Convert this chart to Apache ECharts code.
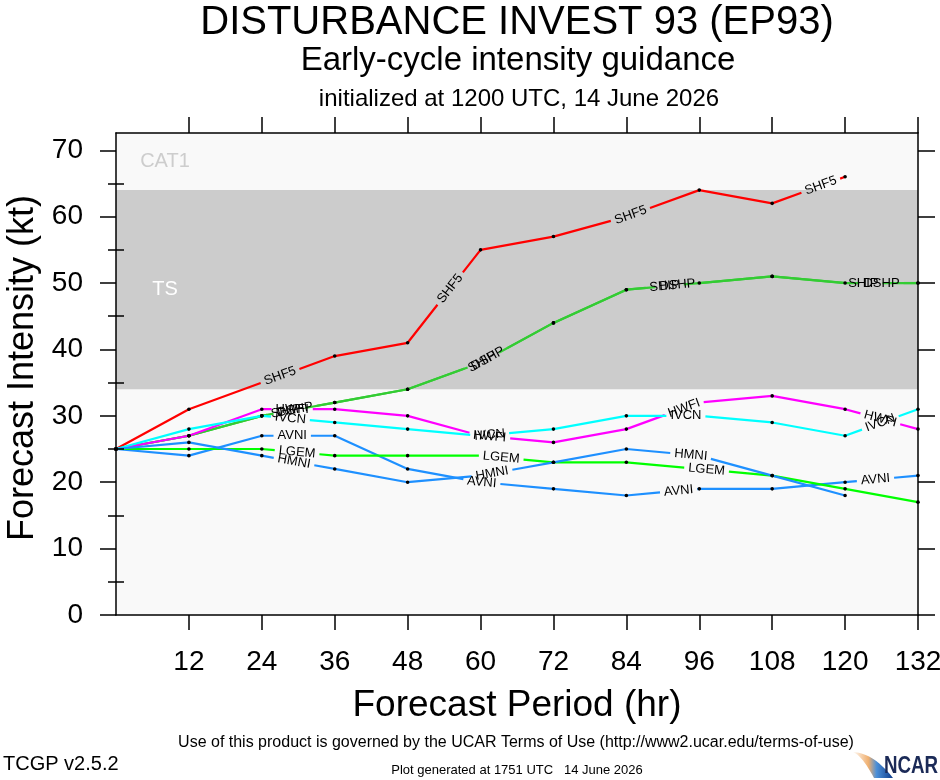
<!DOCTYPE html>
<html>
<head>
<meta charset="utf-8">
<script src="https://cdn.jsdelivr.net/npm/echarts@6.0.0/dist/echarts.min.js"></script>
<style>
html,body{margin:0;padding:0;background:#fff;}
#chart{width:940px;height:780px;}
</style>
</head>
<body>
<div id="chart"></div>
<script>
// ---------------- data ----------------
const hours = [0, 12, 24, 36, 48, 60, 72, 84, 96, 108, 120, 132];
const xTickLabels = ['12', '24', '36', '48', '60', '72', '84', '96', '108', '120', '132'];
const yTickLabels = ['0', '10', '20', '30', '40', '50', '60', '70'];
const yMinorTicks = [5, 15, 25, 35, 45, 55, 65];

const modelNames = ['SHF5', 'SHIP', 'DSHP', 'HWFI', 'IVCN', 'AVNI', 'LGEM', 'HMNI'];
const SHF5 = [25, 31, 35, 39, 41, 55, 57, 60, 64, 62, 66];
const SHIP = [25, 27, 30, 32, 34, 38, 44, 49, 50, 51, 50, 50];
const DSHP = [25, 27, 30, 32, 34, 38, 44, 49, 50, 51, 50, 50];
const HWFI = [25, 27, 31, 31, 30, 27, 26, 28, 32, 33, 31, 28];
const IVCN = [25, 28, 30, 29, 28, 27, 28, 30, 30, 29, 27, 31];
const AVNI = [25, 24, 27, 27, 22, 20, 19, 18, 19, 19, 20, 21];
const LGEM = [25, 25, 25, 24, 24, 24, 23, 23, 22, 21, 19, 17];
const HMNI = [25, 26, 24, 22, 20, 21, 23, 25, 24, 21, 18];

const bandNames = ['TS', 'CAT1'];
const bandLimits = [34, 64];
const yMax = 72.6;

// ---------------- styling / layout ----------------
const FONT = '"Liberation Sans", Arial, Helvetica, sans-serif';
const LABEL_FONT = '13px ' + FONT;
const modelValues = { SHF5, SHIP, DSHP, HWFI, IVCN, AVNI, LGEM, HMNI };
const modelColors = {
  SHF5: '#ff0000', SHIP: '#33cc33', DSHP: '#33cc33', HWFI: '#ff00ff',
  IVCN: '#00ffff', AVNI: '#1e90ff', LGEM: '#00ff00', HMNI: '#1e90ff'
};
// where along each curve (in forecast hours) the in-line name labels sit
const labelSpots = {
  SHF5: [27, 55, 84.7, 116],
  SHIP: [28, 60.3, 90.3, 123],
  DSHP: [29.5, 61.2, 92.4, 126],
  HWFI: [29, 61.5, 93.5, 125.8],
  IVCN: [28.7, 61.5, 93.8, 125.8],
  AVNI: [29, 60.2, 92.6, 125],
  LGEM: [29.8, 63.4, 97.2],
  HMNI: [29.3, 61.9, 94.6]
};

const measureCtx = document.createElement('canvas').getContext('2d');
measureCtx.font = LABEL_FONT;

function geometry(name, api) {
  const vals = modelValues[name];
  const pts = vals.map((v, i) => api.coord([hours[i], v]));
  const cum = [0];
  for (let i = 1; i < pts.length; i++) {
    cum.push(cum[i - 1] + Math.hypot(pts[i][0] - pts[i - 1][0], pts[i][1] - pts[i - 1][1]));
  }
  const w = measureCtx.measureText(name).width;
  const labels = [];
  const gaps = [];
  labelSpots[name].forEach(h => {
    const px = api.coord([h, 0])[0];
    let i = 0;
    while (i < pts.length - 2 && pts[i + 1][0] < px) i++;
    let t = (px - pts[i][0]) / (pts[i + 1][0] - pts[i][0]);
    t = Math.max(0, Math.min(1, t));
    const cx = pts[i][0] + t * (pts[i + 1][0] - pts[i][0]);
    const cy = pts[i][1] + t * (pts[i + 1][1] - pts[i][1]);
    const s = cum[i] + t * (cum[i + 1] - cum[i]);
    const ang = Math.atan2(pts[i + 1][1] - pts[i][1], pts[i + 1][0] - pts[i][0]);
    labels.push({ cx, cy, ang });
    gaps.push([s - w / 2 - 4, s + w / 2 + 4]);
  });
  return { pts, cum, labels, gaps };
}

function lineRenderer(name) {
  const color = modelColors[name];
  return function (params, api) {
    if (params.dataIndex !== 0) return null;
    const { pts, cum, gaps } = geometry(name, api);
    const total = cum[cum.length - 1];
    let ivs = [[0, total]];
    gaps.forEach(g => {
      const out = [];
      ivs.forEach(([a, b]) => {
        if (g[1] <= a || g[0] >= b) out.push([a, b]);
        else {
          if (g[0] > a) out.push([a, g[0]]);
          if (g[1] < b) out.push([g[1], b]);
        }
      });
      ivs = out;
    });
    function at(s) {
      let i = 0;
      while (i < pts.length - 2 && cum[i + 1] < s) i++;
      const L = cum[i + 1] - cum[i];
      const t = L ? (s - cum[i]) / L : 0;
      return [pts[i][0] + t * (pts[i + 1][0] - pts[i][0]), pts[i][1] + t * (pts[i + 1][1] - pts[i][1])];
    }
    const children = [];
    ivs.forEach(([a, b]) => {
      const p = [at(a)];
      for (let k = 0; k < cum.length; k++) if (cum[k] > a && cum[k] < b) p.push(pts[k]);
      p.push(at(b));
      children.push({
        type: 'polyline', shape: { points: p },
        style: { stroke: color, lineWidth: 2.2, fill: 'none', lineJoin: 'round' }
      });
    });
    pts.forEach((p, k) => {
      if (!gaps.some(g => cum[k] > g[0] && cum[k] < g[1])) {
        children.push({ type: 'circle', z2: 5, shape: { cx: p[0], cy: p[1], r: 1.8 }, style: { fill: '#000' } });
      }
    });
    return { type: 'group', children };
  };
}

function labelRenderer(name) {
  return function (params, api) {
    if (params.dataIndex !== 0) return null;
    const { labels } = geometry(name, api);
    return {
      type: 'group',
      children: labels.map(l => ({
        type: 'text', x: l.cx, y: l.cy, rotation: -l.ang,
        style: {
          text: name, fill: '#000', font: LABEL_FONT,
          align: 'center', verticalAlign: 'middle',
          textAlign: 'center', textVerticalAlign: 'middle'
        }
      }))
    };
  };
}

const xTicks = xTickLabels.map(Number);
const yTicks = yTickLabels.map(Number);

const series = [];
series.push({
  type: 'line', data: [], silent: true, z: 1,
  markArea: {
    silent: true,
    label: {
      show: true, position: [49, '50%'], align: 'center', verticalAlign: 'middle',
      fontSize: 20, fontFamily: FONT
    },
    data: [
      [{ name: bandNames[0], yAxis: bandLimits[0], itemStyle: { color: '#cccccc' }, label: { color: '#ffffff' } },
       { yAxis: bandLimits[1] }],
      [{ name: bandNames[1], yAxis: bandLimits[1], itemStyle: { color: 'rgba(0,0,0,0)' }, label: { color: '#cdcdcd' } },
       { yAxis: yMax }]
    ]
  }
});
modelNames.forEach(name => {
  const data = modelValues[name].map((v, i) => [hours[i], v]);
  series.push({
    type: 'custom', name, coordinateSystem: 'cartesian2d', z: 3, silent: true,
    data, renderItem: lineRenderer(name)
  });
});
modelNames.forEach(name => {
  const data = modelValues[name].map((v, i) => [hours[i], v]);
  series.push({
    type: 'custom', name: name + ' label', coordinateSystem: 'cartesian2d', z: 4, silent: true,
    data, renderItem: labelRenderer(name)
  });
});

// NCAR logo swoosh outline
const swoosh = [];
for (let i = 0; i <= 12; i++) {
  const t = i / 12;
  swoosh.push([852 + 41 * t, 752 + 26 * t * t]);
}
for (let i = 12; i >= 0; i--) {
  const t = i / 12;
  swoosh.push([852 + 22 * t, 752 + 26 * Math.pow(t, 1.6)]);
}

const tickStyle = { color: '#000', width: 1.5 };
const frameLine = { show: true, onZero: false, lineStyle: { color: '#000', width: 1.5 } };
const option = {
  animation: false,
  backgroundColor: '#ffffff',
  textStyle: { fontFamily: FONT },
  grid: {
    left: 116, right: 22, top: 133, bottom: 165,
    outerBoundsMode: 'none', containLabel: false,
    show: true, backgroundColor: '#f9f9f9', borderWidth: 0
  },
  xAxis: [
    {
      type: 'value', min: 0, max: 132, position: 'bottom', z: 10,
      axisLine: frameLine, splitLine: { show: false },
      axisTick: { show: true, inside: false, customValues: xTicks, length: 15, lineStyle: tickStyle },
      axisLabel: {
        customValues: xTicks, fontSize: 28, color: '#000', margin: 33, fontFamily: FONT,
        formatter: v => xTickLabels[xTicks.indexOf(v)] || ''
      },
      name: 'Forecast Period (hr)', nameLocation: 'middle', nameGap: 72,
      nameTextStyle: { fontSize: 37, color: '#000', fontFamily: FONT }
    },
    {
      type: 'value', min: 0, max: 132, position: 'top', z: 10,
      axisLine: frameLine, splitLine: { show: false },
      axisTick: { show: true, customValues: xTicks, length: 16, lineStyle: tickStyle },
      axisLabel: { show: false }
    }
  ],
  yAxis: [
    {
      type: 'value', min: 0, max: yMax, position: 'left', z: 10,
      axisLine: frameLine, splitLine: { show: false },
      axisTick: { show: true, customValues: yTicks, length: 16, lineStyle: tickStyle },
      axisLabel: {
        customValues: yTicks, fontSize: 28, color: '#000', margin: 33, fontFamily: FONT,
        formatter: v => yTickLabels[yTicks.indexOf(v)] || ''
      },
      name: 'Forecast Intensity (kt)', nameLocation: 'middle', nameGap: 72, nameRotate: 90,
      nameTextStyle: { fontSize: 36, color: '#000', fontFamily: FONT, padding: [0, 0, 0, 12] }
    },
    {
      type: 'value', min: 0, max: yMax, position: 'left', z: 10,
      axisLine: { show: false }, splitLine: { show: false },
      axisTick: { show: true, customValues: yMinorTicks, length: 8, lineStyle: tickStyle },
      axisLabel: { show: false }
    },
    {
      type: 'value', min: 0, max: yMax, position: 'right', z: 10,
      axisLine: frameLine, splitLine: { show: false },
      axisTick: { show: true, customValues: yTicks, length: 17, lineStyle: tickStyle },
      axisLabel: { show: false }
    },
    {
      type: 'value', min: 0, max: yMax, position: 'right', z: 10,
      axisLine: { show: false }, splitLine: { show: false },
      axisTick: { show: true, customValues: yMinorTicks, length: 8, lineStyle: tickStyle },
      axisLabel: { show: false }
    }
  ],
  graphic: [
    { type: 'text', x: 517, y: 23, style: { text: 'DISTURBANCE INVEST 93 (EP93)', font: '40px ' + FONT, fill: '#000', align: 'center', verticalAlign: 'middle', textAlign: 'center', textVerticalAlign: 'middle' } },
    { type: 'text', x: 518, y: 61, style: { text: 'Early-cycle intensity guidance', font: '33px ' + FONT, fill: '#000', align: 'center', verticalAlign: 'middle', textAlign: 'center', textVerticalAlign: 'middle' } },
    { type: 'text', x: 519, y: 99, style: { text: 'initialized at 1200 UTC, 14 June 2026', font: '24px ' + FONT, fill: '#000', align: 'center', verticalAlign: 'middle', textAlign: 'center', textVerticalAlign: 'middle' } },
    { type: 'text', x: 516, y: 743, style: { text: 'Use of this product is governed by the UCAR Terms of Use (http://www2.ucar.edu/terms-of-use)', font: '16px ' + FONT, fill: '#000', align: 'center', verticalAlign: 'middle', textAlign: 'center', textVerticalAlign: 'middle' } },
    { type: 'text', x: 3, y: 764, style: { text: 'TCGP v2.5.2', font: '20px ' + FONT, fill: '#000', align: 'left', verticalAlign: 'middle', textAlign: 'left', textVerticalAlign: 'middle' } },
    { type: 'text', x: 517, y: 770, style: { text: 'Plot generated at 1751 UTC   14 June 2026', font: '13px ' + FONT, fill: '#000', align: 'center', verticalAlign: 'middle', textAlign: 'center', textVerticalAlign: 'middle' } },
    {
      type: 'polygon',
      shape: { points: swoosh },
      style: {
        fill: new echarts.graphic.LinearGradient(0, 0, 1, 0, [
          { offset: 0, color: '#ffffff' }, { offset: 0.4, color: '#f0b070' },
          { offset: 0.6, color: '#4a8fd8' }, { offset: 1, color: '#0d3b8a' }
        ])
      }
    },
    { type: 'text', x: 884, y: 766, scaleX: 0.78, style: { text: 'NCAR', font: 'bold 24px ' + FONT, fill: '#1b2a57', align: 'left', verticalAlign: 'middle', textAlign: 'left', textVerticalAlign: 'middle' } }
  ],
  series
};

const chart = echarts.init(document.getElementById('chart'), null, { renderer: 'canvas' });
chart.setOption(option);
</script>
</body>
</html>
